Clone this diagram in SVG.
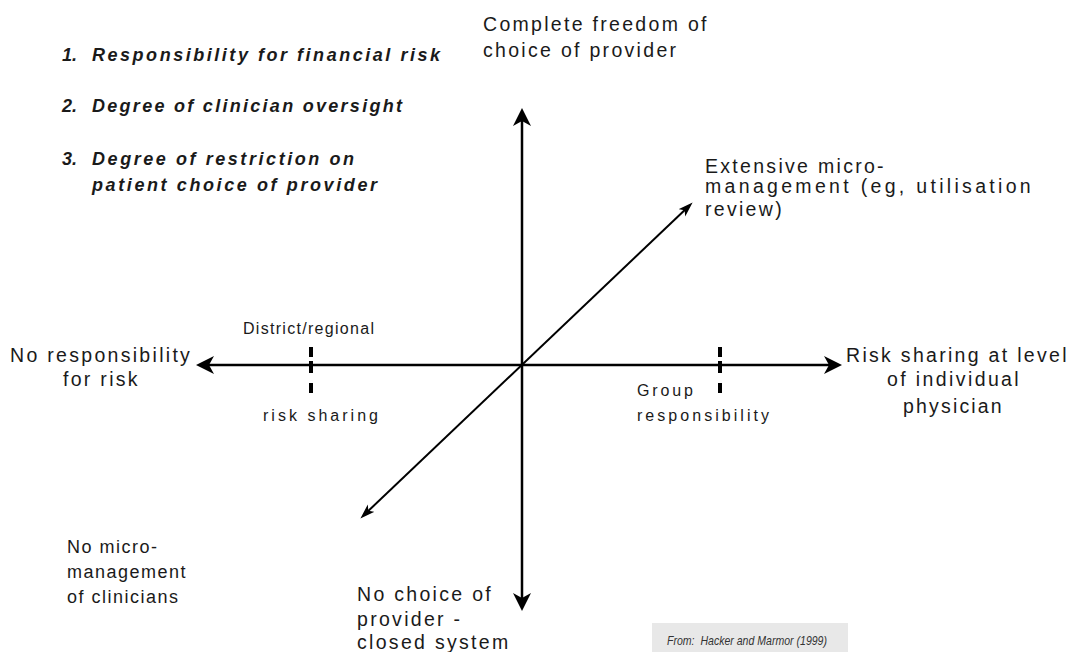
<svg xmlns="http://www.w3.org/2000/svg" width="1068" height="652" viewBox="0 0 1068 652">
  <defs>
    <style>
      text { font-family: "Liberation Sans", Arial, sans-serif; fill: #1a1a1a; }
      .lbl { font-size: 19.5px; letter-spacing: 2.3px; }
      .ll { font-size: 18px; letter-spacing: 1.5px; }
      .sm { font-size: 16px; }
      .hd { font-size: 18px; font-weight: bold; font-style: italic; }
      .src { font-size: 13.5px; font-style: italic; fill: #333; white-space: pre; }
      .axis { stroke: #000; stroke-width: 2.5; fill: none; }
      .diag { stroke: #000; stroke-width: 2; fill: none; }
      .tick { stroke: #000; stroke-width: 4; fill: none; }
    </style>
    <marker id="ah" markerUnits="userSpaceOnUse" markerWidth="20" markerHeight="20" refX="12" refY="9" orient="auto-start-reverse">
      <path d="M0,0 L18,9 L0,18 L5,9 Z" fill="#000"/>
    </marker>
    <marker id="ahd" markerUnits="userSpaceOnUse" markerWidth="16" markerHeight="12" refX="10" refY="5" orient="auto-start-reverse">
      <path d="M0,0 L15,5 L0,10 L4,5 Z" fill="#000"/>
    </marker>
  </defs>
  <rect x="0" y="0" width="1068" height="652" fill="#fff"/>

  <g id="connectors">
    <line id="vertical-axis" class="axis" x1="522" y1="114" x2="522" y2="605" marker-start="url(#ah)" marker-end="url(#ah)"/>
    <line id="horizontal-axis" class="axis" x1="202" y1="365" x2="836" y2="365" marker-start="url(#ah)" marker-end="url(#ah)"/>
    <line id="diagonal-axis" class="diag" x1="364" y1="515" x2="689" y2="206" marker-start="url(#ahd)" marker-end="url(#ahd)"/>
    <path id="tick-left" class="tick" d="M311,347V357 M311,361V373 M311,383V393"/>
    <path id="tick-right" class="tick" d="M720,347V357 M720,361V373 M720,383V393"/>
  </g>

  <g id="dimensions-list">
    <text class="hd" x="62" y="61">1.</text>
    <text class="hd" x="92" y="61" textLength="348" lengthAdjust="spacing">Responsibility for financial risk</text>
    <text class="hd" x="62" y="112">2.</text>
    <text class="hd" x="92" y="112" textLength="310" lengthAdjust="spacing">Degree of clinician oversight</text>
    <text class="hd" x="62" y="165">3.</text>
    <text class="hd" x="92" y="165" textLength="262" lengthAdjust="spacing">Degree of restriction on</text>
    <text class="hd" x="92" y="191" textLength="285" lengthAdjust="spacing">patient choice of provider</text>
  </g>

  <g id="top-label">
    <text class="lbl" x="483" y="31">Complete freedom of</text>
    <text class="lbl" x="483" y="57">choice of provider</text>
  </g>

  <g id="upper-right-label">
    <text class="lbl" x="705" y="173">Extensive micro-</text>
    <text class="lbl" x="705" y="193" textLength="328" lengthAdjust="spacing">management (eg, utilisation</text>
    <text class="lbl" x="705" y="216">review)</text>
  </g>

  <g id="left-label">
    <text class="lbl" x="10" y="362">No responsibility</text>
    <text class="lbl" x="63" y="386">for risk</text>
  </g>

  <g id="district-label">
    <text class="sm" x="243" y="334" textLength="131" lengthAdjust="spacing">District/regional</text>
    <text class="sm" x="263" y="421" textLength="115" lengthAdjust="spacing">risk sharing</text>
  </g>

  <g id="group-label">
    <text class="sm" x="637" y="396" textLength="56" lengthAdjust="spacing">Group</text>
    <text class="sm" x="637" y="421" textLength="132" lengthAdjust="spacing">responsibility</text>
  </g>

  <g id="right-label">
    <text class="lbl" x="846" y="362">Risk sharing at level</text>
    <text class="lbl" x="887" y="386" textLength="134" lengthAdjust="spacing">of individual</text>
    <text class="lbl" x="903" y="413" textLength="101" lengthAdjust="spacing">physician</text>
  </g>

  <g id="lower-left-label">
    <text class="ll" x="67" y="553">No micro-</text>
    <text class="ll" x="67" y="578">management</text>
    <text class="ll" x="67" y="603">of clinicians</text>
  </g>

  <g id="bottom-label">
    <text class="lbl" x="357" y="601">No choice of</text>
    <text class="lbl" x="357" y="626">provider -</text>
    <text class="lbl" x="357" y="649">closed system</text>
  </g>

  <g id="source-note">
    <rect x="652" y="623" width="196" height="29" fill="#e8e8e8"/>
    <text class="src" x="667" y="645" textLength="160" lengthAdjust="spacingAndGlyphs">From:  Hacker and Marmor (1999)</text>
  </g>
</svg>
